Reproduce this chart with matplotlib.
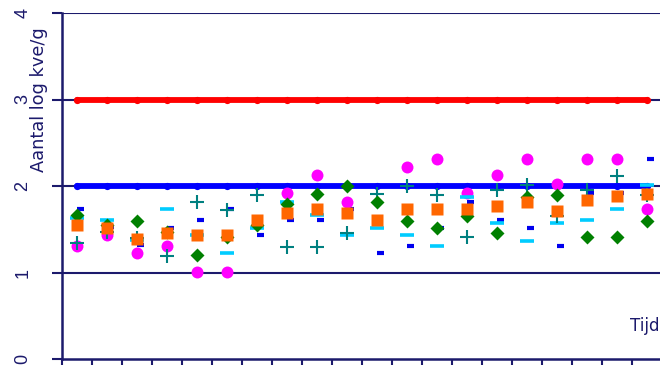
import numpy as np
import matplotlib
matplotlib.use("Agg")
import matplotlib.pyplot as plt
from matplotlib.path import Path

# Sampling moments (20 per series)
moments = list(range(1, 21))

# Reference limits (log cfu/g)
limit_high = [3.0] * 20
limit_low = [2.0] * 20

# Measured counts per batch
green = [1.66, 1.55, 1.60, 1.47, 1.20, 1.41, 1.55, 1.79, 1.91, 2.00,
         1.81, 1.60, 1.51, 1.65, 1.46, 1.87, 1.90, 1.41, 1.41, 1.60]
orange = [1.55, 1.52, 1.39, 1.46, 1.43, 1.43, 1.61, 1.69, 1.73, 1.69,
          1.61, 1.73, 1.73, 1.73, 1.77, 1.82, 1.71, 1.84, 1.89, 1.91]
magenta = [1.31, 1.43, 1.22, 1.31, 1.01, 1.01, None, 1.92, 2.13, 1.82,
           None, 2.22, 2.31, 1.92, 2.13, 2.31, 2.02, 2.31, 2.31, 1.73]
teal = [1.34, 1.47, 1.40, 1.19, 1.81, 1.72, 1.90, 1.30, 1.30, 1.46,
        1.91, 2.00, 1.90, 1.41, 1.95, 2.01, 1.65, 1.95, 2.11, 1.90]
cyan = [1.63, 1.61, 1.38, 1.73, 1.43, 1.22, 1.52, 1.82, 1.66, 1.43,
        1.52, 1.43, 1.31, 1.87, 1.57, 1.36, 1.57, 1.61, 1.73, 2.01]
blue = [1.73, 1.53, 1.32, 1.52, 1.61, 1.73, 1.43, 1.61, 1.61, 1.73,
        1.22, 1.31, 1.52, 1.82, 1.61, 1.52, 1.31, 1.92, 1.92, 2.31]

y_ticks = [0, 1, 2, 3, 4]
y_label = "Aantal log kve/g"
x_label = "Tijd"

NAVY = "#1c1a6c"

W, H, DPI = 660, 365, 100
fig = plt.figure(figsize=(W / DPI, H / DPI), dpi=DPI)
ax = fig.add_axes([62 / W, 6 / H, 600 / W, 346 / H])

x = np.arange(len(moments))


def arr(vals):
    return np.array([np.nan if v is None else v for v in vals], dtype=float)


# Limit lines: thick bands with a dot at every moment
for vals, col in ((limit_high, "#ff0000"), (limit_low, "#0000ff")):
    ax.plot(x, vals, color=col, lw=4.2, solid_capstyle="round",
            marker="o", ms=5.2, mec="none", zorder=3)

# Short dash to the right of the point
half_dash = Path([(0, 0), (1, 0)], [Path.MOVETO, Path.LINETO])

ax.plot(x, arr(blue), ls="none", marker=half_dash, ms=10, mew=3.0,
        color="#0000ee", zorder=4)
ax.plot(x, arr(magenta), ls="none", marker="o", ms=8.6, mec="none",
        color="#ff00ff", zorder=5)
ax.plot(x, arr(cyan), ls="none", marker="_", ms=10.5, mew=2.6,
        color="#00ccff", zorder=6)
ax.plot(x, arr(teal), ls="none", marker="+", ms=9.8, mew=1.5,
        color="#008080", zorder=7)
ax.plot(x, arr(green), ls="none", marker="D", ms=7.0, mec="none",
        color="#008000", zorder=8)
ax.plot(x, arr(orange), ls="none", marker="s", ms=8.8, mec="none",
        color="#ff6600", zorder=9)

# Horizontal grid at each whole log unit
for yv in y_ticks[1:]:
    ax.axhline(yv, color=NAVY, lw=1.5, zorder=2)

ax.set_xlim(-0.5, len(moments) - 0.5)
ax.set_ylim(y_ticks[0], y_ticks[-1])

for side in ("top", "right"):
    ax.spines[side].set_visible(False)
for side in ("left", "bottom"):
    ax.spines[side].set_color(NAVY)
    ax.spines[side].set_linewidth(1.8)

ax.set_xticks(np.arange(-0.5, len(moments), 1.0))
ax.set_xticklabels([])
ax.set_yticks(y_ticks)
ax.set_yticklabels([str(v) for v in y_ticks], rotation=90, va="center",
                   fontsize=13, color=NAVY, family="Liberation Sans")
ax.tick_params(axis="x", direction="out", length=6, width=1.5, color=NAVY)
ax.tick_params(axis="y", direction="out", length=7, width=1.5, color=NAVY,
               pad=15)

# Axis titles
fig.text(39 / W, 1 - 100 / H, y_label, rotation=90, ha="center", va="center",
         fontsize=12.8, color=NAVY, family="DejaVu Sans")
fig.text(660 / W, 1 - 331 / H, x_label, ha="right", va="baseline",
         fontsize=12, color=NAVY, family="DejaVu Sans")

fig.savefig("out.png", dpi=DPI)
